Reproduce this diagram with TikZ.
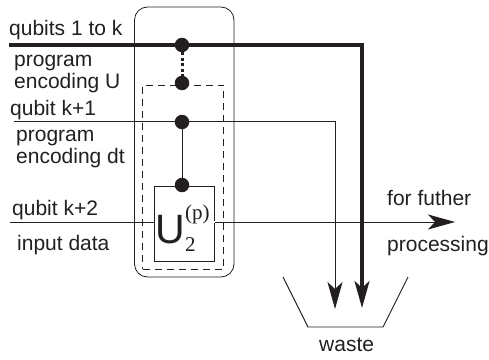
\documentclass[tikz,border=0pt]{standalone}
\usepackage{fontspec}
\setmainfont{Liberation Sans}
\newfontfamily\serifpart{Liberation Serif}
\usetikzlibrary{arrows.meta}
\definecolor{ink}{HTML}{231F20}
\tikzset{
  dotnode/.style={circle,fill=ink,draw=none,minimum size=14.5pt,inner sep=0pt},
  lbl/.style={anchor=base west,inner sep=0pt,text=ink,font=\fontsize{21}{21}\selectfont},
  thinwire/.style={draw=ink,line width=0.9pt},
  thickwire/.style={draw=ink,line width=3.2pt},
  tip/.style={-{Stealth[length=27pt,width=15pt,inset=7pt]}},
}
\begin{document}
\begin{tikzpicture}[x=1pt,y=-1pt]
\useasboundingbox (0,0) rectangle (489,359);
% coordinates
\coordinate (t1) at (9,45); \coordinate (tc) at (362,45); \coordinate (te) at (362,308);
\coordinate (m1) at (14,121.5); \coordinate (mc) at (335,121.5); \coordinate (me) at (335,309);
\coordinate (b1) at (10,222); \coordinate (b2) at (455,222);
% frames
\node (outer) [draw=ink,line width=0.8pt,rounded corners=13pt,minimum width=99.5pt,minimum height=270pt,inner sep=0pt] at (184.25,142) {};
\node (dash) [draw=ink,line width=0.8pt,dash pattern=on 7pt off 5pt,minimum width=81pt,minimum height=184pt,inner sep=0pt] at (183,177) {};
% wires
\draw[thickwire,tip] (t1) -- (tc) -- (te);
\draw[thinwire,tip] (m1) -- (mc) -- (me);
\draw[thinwire,tip] (b1) -- (b2);
% gate
\node (gate) [draw=ink,fill=white,line width=0.8pt,minimum width=60pt,minimum height=75pt,inner sep=0pt] at (184,224) {};
\draw[draw=white,line width=2pt] (213.5,222) -- (214.5,222);
\node[anchor=base west,inner sep=0pt,text=ink,font=\fontsize{41}{41}\selectfont] at (155,243) {U};
\node[anchor=base west,inner sep=0pt,text=ink,font=\fontsize{21}{21}\serifpart] at (185,219) {(p)};
\node[anchor=base west,inner sep=0pt,text=ink,font=\fontsize{21}{21}\serifpart] at (185,251) {2};
% controls
\node (d1) [dotnode] at (182,45) {};
\node (d2) [dotnode] at (182,83) {};
\node (d3) [dotnode] at (182,122) {};
\node (d4) [dotnode] at (182,185) {};
\draw[ink,line width=3pt,dash pattern=on 3pt off 2.5pt] (d1) -- (d2);
\draw[thinwire] (d3) -- (d4);
% waste
\coordinate (w1) at (283,277); \coordinate (w2) at (308,327); \coordinate (w3) at (383,327); \coordinate (w4) at (408,277);
\draw[thinwire] (w1) -- (w2) -- (w3) -- (w4);
% labels
\node[lbl] (a) at (9,35) {qubits 1 to k};
\node[lbl] (b) at (14,66) {program};
\node[lbl] (c) at (14,88) {encoding U};
\node[lbl] (e) at (10,115) {qubit k+1};
\node[lbl] (f) at (16,141) {program};
\node[lbl] (g) at (16,163) {encoding dt};
\node[lbl] (h) at (12,215) {qubit k+2};
\node[lbl] (i) at (17,250) {input data};
\node[lbl] (j) at (387,205) {for futher};
\node[lbl] (k) at (387,251) {processing};
\node[lbl] (l) at (319,351) {waste};
\end{tikzpicture}
\end{document}
